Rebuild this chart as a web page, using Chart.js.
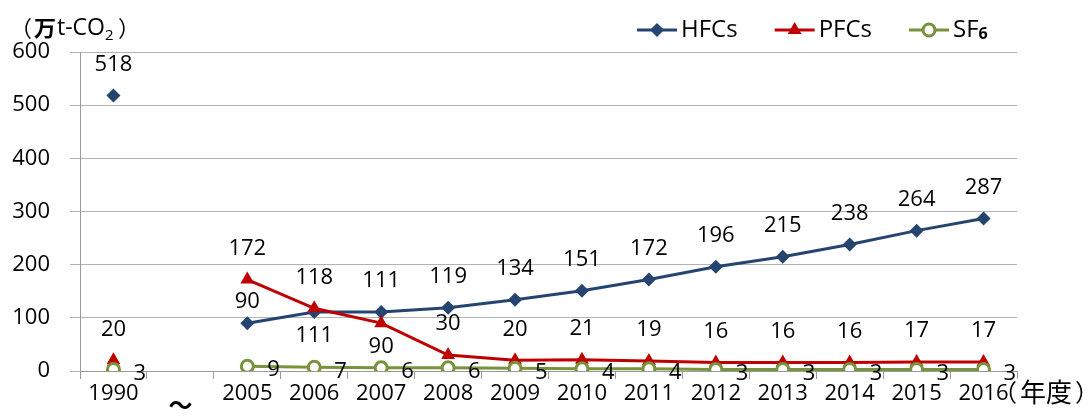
<!DOCTYPE html>
<html><head><meta charset="utf-8">
<script src="https://cdn.jsdelivr.net/npm/chart.js@4/dist/chart.umd.min.js"></script>
<style>html,body{margin:0;padding:0;background:#fff}#wrap{width:1088px;height:416px;position:relative}</style>
</head><body><div id="wrap"><canvas id="c" width="1088" height="416"></canvas></div>
<script>
const categories = ['1990','～','2005','2006','2007','2008','2009','2010','2011','2012','2013','2014','2015','2016'];
const hfcValues = [518,null,90,111,111,119,134,151,172,196,215,238,264,287];
const pfcValues = [20,null,172,118,90,30,20,21,19,16,16,16,17,17];
const sf6Values = [3,null,9,7,6,6,5,4,4,3,3,3,3,3];
const yTicks = [0,100,200,300,400,500,600];
const seriesNames = ['HFCs','PFCs','SF₆'];
const yTitle = ['（','万','t-CO','2','）'];
const xTitle = ['（','年度','）'];
// label placement per point
const hfcPlace = ['above',null,'near','below','above','above','above','above','above','above','above','above','above','above'];
const pfcPlace = ['above',null,'above','above','below','above','above','above','above','above','above','above','above','above'];
const sf6Place = ['right',null,'right','right','right','right','right','right','right','right','right','right','right','right'];

const FONT = '"Open Sans", "Noto Sans", sans-serif';
const CJK = '"Noto Sans CJK JP", sans-serif';
const colors = ['#254470','#C00000','#77933C'];
const places = [hfcPlace, pfcPlace, sf6Place];

// draws text so that its ink starts at inkLeft; returns ink right edge
function inkText(ctx, t, inkLeft, y) {
  const m = ctx.measureText(t);
  const x = inkLeft + m.actualBoundingBoxLeft;
  ctx.fillText(t, x, y);
  return x + m.actualBoundingBoxRight;
}

const labelPlugin = {
  id: 'labels',
  afterDatasetsDraw(chart) {
    const ctx = chart.ctx;
    ctx.save();
    ctx.font = '22px ' + FONT;
    ctx.fillStyle = '#000';
    ctx.textBaseline = 'middle';
    chart.data.datasets.forEach((ds, di) => {
      const meta = chart.getDatasetMeta(di);
      meta.data.forEach((pt, i) => {
        const v = ds.data[i];
        if (v === null || v === undefined) return;
        const p = places[di][i];
        let x = pt.x, y = pt.y;
        ctx.textAlign = 'center';
        if (p === 'above') y -= 31;
        else if (p === 'near') y -= 21;
        else if (p === 'below') y += 24;
        else if (p === 'right') { ctx.textAlign = 'left'; x += 20; y += 4; }
        ctx.fillText(String(v), x, y);
      });
    });
    ctx.restore();
  },
  afterDraw(chart) {
    const ctx = chart.ctx;
    ctx.save();
    // legend
    let x = 637; const y = 30;
    chart.data.datasets.forEach((ds, di) => {
      ctx.strokeStyle = ds.borderColor; ctx.lineWidth = 3;
      ctx.beginPath(); ctx.moveTo(x, y); ctx.lineTo(x + 40, y); ctx.stroke();
      ctx.fillStyle = ds.pointBackgroundColor; ctx.strokeStyle = ds.pointBorderColor; ctx.lineWidth = ds.pointBorderWidth || 1;
      Chart.helpers.drawPoint(ctx, {pointStyle: ds.pointStyle, radius: ds.pointRadius, rotation: 0, borderWidth: ds.pointBorderWidth}, x + 20, y);
      let tx = x + 44;
      const name = ds.label;
      const m = name.match(/^(.*?)([₀-₉]+)$/);
      ctx.fillStyle = '#000'; ctx.textAlign = 'left'; ctx.textBaseline = 'middle';
      ctx.font = '24px ' + FONT;
      if (m) {
        ctx.fillText(m[1], tx, y); tx += ctx.measureText(m[1]).width;
        const sub = m[2].replace(/[₀-₉]/g, c => String(c.charCodeAt(0) - 0x2080));
        ctx.font = 'bold 16px ' + FONT;
        ctx.fillText(sub, tx, y + 4); tx += ctx.measureText(sub).width;
      } else {
        ctx.fillText(name, tx, y); tx += ctx.measureText(name).width;
      }
      x = tx + 37;
    });
    // y title
    ctx.fillStyle = '#000'; ctx.textBaseline = 'middle'; ctx.textAlign = 'left';
    const ay = 28;
    let r;
    ctx.font = '22px ' + CJK; r = inkText(ctx, yTitle[0], 25, ay);
    ctx.font = 'bold 22px ' + CJK; r = inkText(ctx, yTitle[1], r + 3, ay);
    ctx.font = '23px ' + FONT; r = inkText(ctx, yTitle[2], r + 2, ay);
    ctx.font = '15px ' + FONT; r = inkText(ctx, yTitle[3], r + 1, ay + 8);
    ctx.font = '22px ' + CJK; inkText(ctx, yTitle[4], r + 6, ay);
    // x title
    ctx.font = '24px ' + CJK; r = inkText(ctx, xTitle[0], 1009, 392);
    ctx.font = '26px ' + CJK; r = inkText(ctx, xTitle[1], r + 5, 392);
    ctx.font = '24px ' + CJK; inkText(ctx, xTitle[2], r + 5, 392);
    ctx.restore();
  }
};

new Chart(document.getElementById('c'), {
  type: 'line',
  data: {
    labels: categories,
    datasets: [
      {label: seriesNames[0], data: hfcValues, borderColor: colors[0], backgroundColor: colors[0], borderWidth: 3,
       pointStyle: 'rectRot', pointRadius: 7, pointBackgroundColor: colors[0], pointBorderColor: colors[0], pointBorderWidth: 0, order: 2},
      {label: seriesNames[1], data: pfcValues, borderColor: colors[1], backgroundColor: colors[1], borderWidth: 3,
       pointStyle: 'triangle', pointRadius: 8, pointBackgroundColor: colors[1], pointBorderColor: colors[1], pointBorderWidth: 0, order: 1},
      {label: seriesNames[2], data: sf6Values, borderColor: colors[2], backgroundColor: '#fff', borderWidth: 3,
       pointStyle: 'circle', pointRadius: 6, pointBackgroundColor: '#fff', pointBorderColor: colors[2], pointBorderWidth: 3, order: 0}
    ]
  },
  options: {
    responsive: false, animation: false, devicePixelRatio: 1,
    spanGaps: false,
    layout: {padding: {top: 52, right: 71, left: 0, bottom: 0}},
    plugins: {legend: {display: false}, tooltip: {enabled: false}},
    elements: {line: {tension: 0}},
    scales: {
      x: {
        offset: true,
        grid: {drawOnChartArea: false, drawTicks: true, tickLength: 8, offset: true, color: '#9a9a9a'},
        border: {display: true, color: '#9a9a9a'},
        ticks: {
          color: '#000', padding: 2, maxRotation: 0, autoSkip: false,
          font: (c) => (categories[c.index] === '～'
            ? {size: 24, family: CJK, lineHeight: 1.97, weight: 'bold'}
            : {size: 22, family: FONT})
        },
        afterFit(s) { s.height = 45; }
      },
      y: {
        min: 0, max: 600,
        afterBuildTicks(s) { s.ticks = yTicks.map(v => ({value: v})); },
        grid: {color: '#b3b3b3', tickLength: 10, drawTicks: true},
        border: {display: true, color: '#9a9a9a'},
        ticks: {color: '#000', font: {size: 22, family: FONT}, padding: 20},
        afterFit(s) { s.width = 80; }
      }
    }
  },
  plugins: [labelPlugin]
});
</script></body></html>
